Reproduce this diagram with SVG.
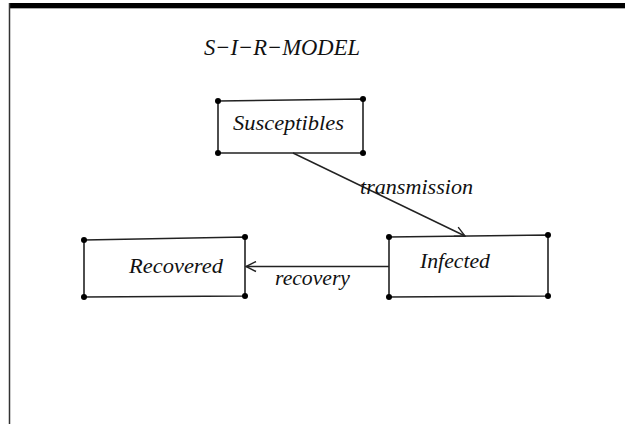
<svg xmlns="http://www.w3.org/2000/svg" width="625" height="426" viewBox="0 0 625 426">
<style>
.b{fill:none;stroke:#222;stroke-width:1.6}
.d{fill:#000}
.c{fill:none;stroke:#222;stroke-width:1.4}
</style>
<defs>
<marker id="ah" viewBox="0 0 12 12" refX="11" refY="6" markerWidth="12" markerHeight="12" markerUnits="userSpaceOnUse" orient="auto">
<path d="M1,1 L11,6 L1,11" fill="none" stroke="#222" stroke-width="1.4"/>
</marker>
</defs>
<rect width="625" height="426" fill="#fff"/>
<rect x="9" y="3" width="616" height="5" fill="#000"/>
<line x1="9" y1="8.5" x2="625" y2="8.5" stroke="#aaa" stroke-width="1"/>
<line x1="9.5" y1="3" x2="9.5" y2="424" stroke="#333" stroke-width="1.5"/>
<g font-family="Liberation Serif, Times New Roman, serif" font-style="italic" font-size="22" fill="#111">
<text x="204" y="55" font-size="23" textLength="156" lengthAdjust="spacingAndGlyphs">S−I−R−MODEL</text>
<g id="susceptibles">
<path class="b" d="M218,101 L363,99 L363,153 L218,153 Z"/>
<circle class="d" cx="218" cy="101" r="3"/><circle class="d" cx="363" cy="99" r="3"/>
<circle class="d" cx="218" cy="153" r="3"/><circle class="d" cx="363" cy="153" r="3"/>
<text x="233" y="130" textLength="111" lengthAdjust="spacingAndGlyphs">Susceptibles</text>
</g>
<g id="infected">
<path class="b" d="M389,237 L548,235 L548,296 L389,297 Z"/>
<circle class="d" cx="389" cy="237" r="3"/><circle class="d" cx="548" cy="235" r="3"/>
<circle class="d" cx="389" cy="297" r="3"/><circle class="d" cx="548" cy="296" r="3"/>
<text x="420" y="268" textLength="70" lengthAdjust="spacingAndGlyphs">Infected</text>
</g>
<g id="recovered">
<path class="b" d="M84,240 L245,237 L245,296 L84,297 Z"/>
<circle class="d" cx="84" cy="240" r="3"/><circle class="d" cx="245" cy="237" r="3"/>
<circle class="d" cx="84" cy="297" r="3"/><circle class="d" cx="245" cy="296" r="3"/>
<text x="129" y="273" textLength="94" lengthAdjust="spacingAndGlyphs">Recovered</text>
</g>
<g id="connectors">
<line class="c" x1="293" y1="153" x2="465" y2="236" marker-end="url(#ah)"/>
<text x="360" y="194" textLength="113" lengthAdjust="spacingAndGlyphs">transmission</text>
<line class="c" x1="389" y1="266.5" x2="246" y2="266.5" marker-end="url(#ah)"/>
<text x="275" y="285" textLength="75" lengthAdjust="spacingAndGlyphs">recovery</text>
</g>
</g>
</svg>
